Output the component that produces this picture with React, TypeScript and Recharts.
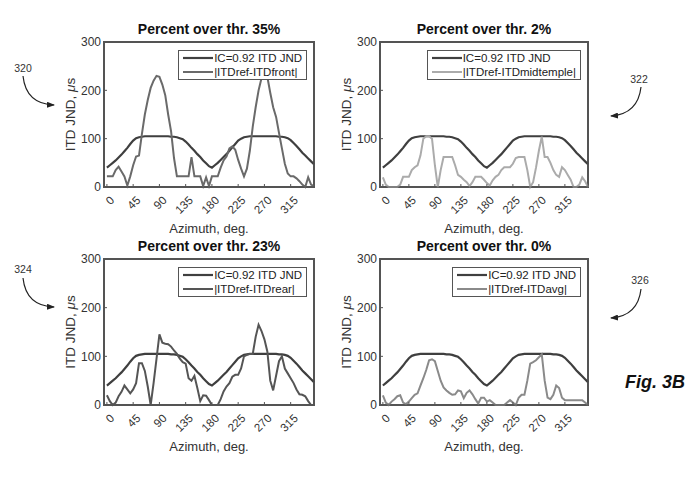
import React from "react";
import { LineChart, Line, XAxis, YAxis, Legend, ReferenceArea } from "recharts";

// azimuth grid, degrees
const azimuth = [
  0, 5, 10, 15, 20, 25, 30, 35, 40, 45, 50, 55,
  60, 65, 70, 75, 80, 85, 90, 95, 100, 105, 110, 115,
  120, 125, 130, 135, 140, 145, 150, 155, 160, 165, 170, 175,
  180, 185, 190, 195, 200, 205, 210, 215, 220, 225, 230, 235,
  240, 245, 250, 255, 260, 265, 270, 275, 280, 285, 290, 295,
  300, 305, 310, 315, 320, 325, 330, 335, 340, 345, 350, 355,
];

// IC=0.92 ITD JND, same curve in every panel
const jnd = [
  40, 45, 50, 55, 61, 67, 74, 81, 89, 96, 101, 103,
  104, 105, 105, 105, 105, 105, 105, 105, 105, 105, 104, 104,
  103, 101, 99, 94, 88, 81, 75, 68, 62, 55, 49, 43,
  40, 45, 50, 56, 62, 68, 75, 82, 89, 96, 100, 103,
  104, 105, 105, 105, 105, 105, 105, 105, 105, 105, 105, 104,
  104, 103, 101, 97, 91, 85, 78, 71, 65, 59, 53, 47,
];

const front = [
  22, 22, 22, 35, 42, 32, 22, 3, 22, 45, 63, 65,
  110, 150, 180, 205, 220, 230, 228, 212, 190, 150, 115, 60,
  22, 22, 22, 22, 22, 62, 22, 22, 22, 2, 20, 2,
  22, 22, 22, 40, 55, 63, 80, 84, 77, 56, 38, 22,
  38, 75, 125, 165, 200, 225, 235, 228, 195, 165, 145, 112,
  80, 48, 28, 22, 22, 18, 12, 5, 0, 20, 5, 2,
];

const midtemple = [
  20, 5, 0, 0, 0, 0, 5, 21, 21, 21, 35, 41,
  45, 65, 100, 105, 105, 100, 45, 0, 35, 62, 62, 62,
  62, 45, 25, 21, 15, 10, 2, 10, 21, 21, 21, 15,
  8, 3, 14, 21, 25, 35, 41, 41, 41, 48, 60, 62,
  62, 62, 35, 0, 10, 40, 75, 104, 62, 62, 50, 35,
  25, 21, 41, 35, 25, 15, 0, 0, 5, 20, 12, 0,
];

const rear = [
  20, 8, 0, 5, 18, 27, 40, 32, 24, 32, 45, 86,
  86, 70, 38, 0, 45, 95, 145, 128, 126, 125, 120, 112,
  105, 95, 88, 85, 55, 50, 60, 35, 8, 20, 19, 10,
  0, 0, 0, 12, 28, 38, 45, 58, 62, 62, 75, 100,
  103, 105, 105, 140, 165, 152, 135, 110, 50, 30, 60, 90,
  100, 75, 65, 55, 45, 32, 22, 21, 18, 8, 0, 0,
];

const avg = [
  20, 5, 0, 7, 12, 18, 20, 5, 2, 7, 14, 21,
  24, 40, 55, 72, 92, 94, 90, 70, 50, 36, 30, 25,
  21, 22, 30, 28, 14, 25, 30, 22, 12, 3, 15, 15,
  7, 10, 5, 0, 0, 0, 0, 5, 10, 5, 0, 15,
  21, 21, 50, 85, 88, 92, 98, 104, 50, 15, 12, 21,
  40, 35, 15, 10, 10, 10, 10, 10, 10, 10, 5, 0,
];

const xTicks = [0, 45, 90, 135, 180, 225, 270, 315];
const yTicks = [0, 100, 200, 300];

const FONT = '"Liberation Sans", Arial, Helvetica, sans-serif';
const JND_COLOR = "#3f3f3f";
const AXIS_COLOR = "#555555";

const panels = [
  { title: "Percent over thr. 35%", label: "|ITDref-ITDfront|", values: front, color: "#6a6a6a", left: 40, top: 20, width: 280, height: 225 },
  { title: "Percent over thr. 2%", label: "|ITDref-ITDmidtemple|", values: midtemple, color: "#ababab", left: 316, top: 20, width: 278, height: 225 },
  { title: "Percent over thr. 23%", label: "|ITDref-ITDrear|", values: rear, color: "#555555", left: 40, top: 237, width: 280, height: 226 },
  { title: "Percent over thr. 0%", label: "|ITDref-ITDavg|", values: avg, color: "#8a8a8a", left: 316, top: 237, width: 278, height: 226 },
];

function XTick({ x, y, payload }: any) {
  const ax = x + 8;
  const ay = y + 15;
  return (
    <text x={ax} y={ay} transform={`rotate(-45 ${ax} ${ay})`} textAnchor="end" fontSize={11.5} fill="#333" fontFamily={FONT}>
      {payload.value}
    </text>
  );
}

function YLabel(props: any) {
  const vb = props.viewBox || { x: 0, y: 0, height: 0 };
  const cx = vb.x + 30;
  const cy = vb.y + vb.height / 2;
  return (
    <text x={cx} y={cy} transform={`rotate(-90 ${cx} ${cy})`} textAnchor="middle" dominantBaseline="central" fontSize={13.5} fill="#333" fontFamily={FONT}>
      ITD JND, <tspan fontStyle="italic">μ</tspan>s
    </text>
  );
}

function PanelLegend({ seriesLabel, seriesColor }: { seriesLabel: string; seriesColor: string }) {
  const rows = [
    { text: "IC=0.92 ITD JND", color: JND_COLOR, w: 2.2 },
    { text: seriesLabel, color: seriesColor, w: 2 },
  ];
  return (
    <div style={{ border: "1px solid #555", background: "#fff", padding: "0 4px 0 4px", fontFamily: FONT, fontSize: 11.5, color: "#222", lineHeight: "14px" }}>
      {rows.map((r) => (
        <div key={r.text} style={{ display: "flex", alignItems: "center", height: 14, whiteSpace: "nowrap" }}>
          <svg width={30} height={4} style={{ marginRight: 1, display: "block" }}>
            <line x1={0} y1={2} x2={30} y2={2} stroke={r.color} strokeWidth={r.w} />
          </svg>
          <span>{r.text}</span>
        </div>
      ))}
    </div>
  );
}

function Panel({ p }: { p: (typeof panels)[number] }) {
  const rows = azimuth.map((az, i) => ({ az, jnd: jnd[i], v: p.values[i] }));
  return (
    <div style={{ position: "absolute", left: p.left, top: p.top }}>
      <LineChart width={p.width} height={p.height} data={rows} margin={{ top: 21, right: 5, bottom: 0, left: 0 }}>
        <XAxis
          dataKey="az"
          type="number"
          domain={[-5, 355]}
          ticks={xTicks}
          interval={0}
          height={58}
          stroke={AXIS_COLOR}
          tickSize={-3}
          tick={<XTick />}
          label={{ value: "Azimuth, deg.", position: "insideBottom", offset: 12, fontSize: 13, fill: "#333", fontFamily: FONT }}
        />
        <XAxis
          xAxisId="top"
          orientation="top"
          dataKey="az"
          type="number"
          domain={[-5, 355]}
          ticks={xTicks}
          interval={0}
          height={1}
          stroke={AXIS_COLOR}
          tickSize={-3}
          tick={false}
          label={{ value: p.title, position: "top", offset: 7, fontSize: 14, fontWeight: "bold", fill: "#111", fontFamily: FONT }}
        />
        <YAxis
          type="number"
          domain={[0, 300]}
          ticks={yTicks}
          interval={0}
          width={64}
          stroke={AXIS_COLOR}
          tickSize={-3}
          tickMargin={6}
          tick={{ fontSize: 12, fill: "#333", fontFamily: FONT }}
          label={YLabel}
        />
        <YAxis
          yAxisId="right"
          orientation="right"
          type="number"
          domain={[0, 300]}
          ticks={yTicks}
          interval={0}
          width={1}
          stroke={AXIS_COLOR}
          tickSize={-3}
          tick={false}
        />
        <ReferenceArea
          x1={-5}
          x2={355}
          y1={0}
          y2={300}
          fill="none"
          fillOpacity={0}
          stroke={AXIS_COLOR}
          strokeWidth={1.2}
          strokeOpacity={1}
          shapeRendering="crispEdges"
          ifOverflow="visible"
        />
        <Legend
          layout="vertical"
          align="center"
          verticalAlign="middle"
          wrapperStyle={{ left: "auto", right: 13, top: 30, width: "auto", height: "auto" }}
          content={() => <PanelLegend seriesLabel={p.label} seriesColor={p.color} />}
        />
        <Line type="linear" dataKey="jnd" stroke={JND_COLOR} strokeWidth={2.2} dot={false} isAnimationActive={false} />
        <Line type="linear" dataKey="v" stroke={p.color} strokeWidth={2} dot={false} isAnimationActive={false} />
      </LineChart>
    </div>
  );
}

export default function App() {
  return (
    <div style={{ position: "absolute", left: 0, top: 0, width: 700, height: 493, background: "#fff", fontFamily: FONT }}>
      {panels.map((p) => (
        <Panel key={p.title} p={p} />
      ))}
      <svg width={700} height={493} style={{ position: "absolute", left: 0, top: 0, pointerEvents: "none" }}>
        <defs>
          <marker id="ah" markerWidth="8" markerHeight="6" refX="7" refY="3" orient="auto" markerUnits="userSpaceOnUse">
            <path d="M0,0 L8,3 L0,6 Z" fill="#222" />
          </marker>
        </defs>
        <g fontFamily={FONT} fontSize={10.5} fill="#333" textAnchor="middle">
          <text x={23} y={72}>320</text>
          <text x={639} y={83}>322</text>
          <text x={23} y={273}>324</text>
          <text x={640} y={284}>326</text>
        </g>
        <g fill="none" stroke="#222" strokeWidth={1.2}>
          <path d="M23,76 Q26,104 54,105" markerEnd="url(#ah)" />
          <path d="M641,87 Q638,114 611,116" markerEnd="url(#ah)" />
          <path d="M23,278 Q26,306 54,307" markerEnd="url(#ah)" />
          <path d="M641,289 Q638,316 611,318" markerEnd="url(#ah)" />
        </g>
        <text x={625} y={388} fontFamily={FONT} fontSize={18} fontWeight="bold" fontStyle="italic" fill="#111">
          Fig. 3B
        </text>
      </svg>
    </div>
  );
}
